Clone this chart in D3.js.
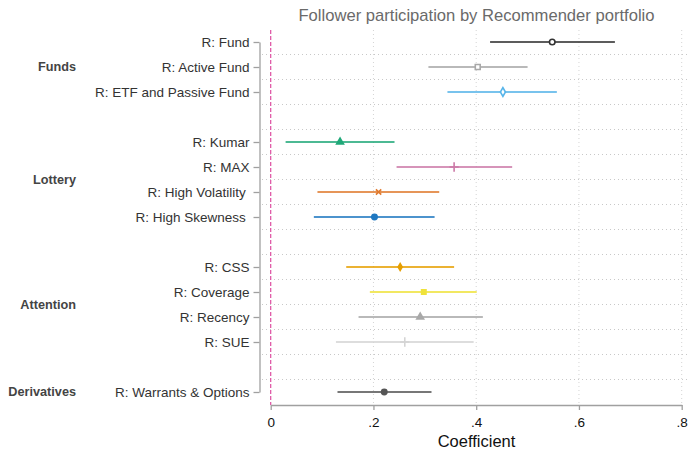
<!DOCTYPE html>
<html>
<head>
<meta charset="utf-8">
<script src="https://cdn.jsdelivr.net/npm/d3@7"></script>
<style>
  body { margin: 0; background: #fff; }
  text { font-family: "Liberation Sans", Arial, sans-serif; }
</style>
</head>
<body>
<svg id="chart"></svg>
<script>
// values
var rowLabels = ["R: Fund", "R: Active Fund", "R: ETF and Passive Fund",
  "R: Kumar", "R: MAX", "R: High Volatility\u00a0", "R: High Skewness\u00a0",
  "R: CSS", "R: Coverage", "R: Recency", "R: SUE", "R: Warrants & Options"];
var rowPos = [1, 2, 3, 5, 6, 7, 8, 10, 11, 12, 13, 15];
var groupNames = ["Funds", "Lottery", "Attention", "Derivatives"];
var groupPos = [2, 6.5, 11.5, 15];
var estimate = [0.548, 0.403, 0.452, 0.135, 0.357, 0.210, 0.202, 0.252, 0.298, 0.291, 0.261, 0.221];
var lower    = [0.427, 0.307, 0.344, 0.029, 0.245, 0.091, 0.084, 0.147, 0.193, 0.171, 0.127, 0.130];
var upper    = [0.670, 0.500, 0.557, 0.241, 0.470, 0.328, 0.319, 0.357, 0.401, 0.413, 0.395, 0.313];
var xTicks = [0, 0.2, 0.4, 0.6, 0.8];
var xTickLabels = ["0", ".2", ".4", ".6", ".8"];

var colors = ["#333333", "#a8a8a8", "#56b4e9", "#1fa878", "#cc79a7", "#e07a2e",
  "#1f78c1", "#e69f00", "#efe23a", "#a8a8a8", "#d4d4d4", "#555555"];
var markers = ["circleHollow", "squareHollow", "diamondHollow", "triangle", "plus", "times",
  "circle", "diamond", "square", "triangle", "plus", "circle"];

var width = 689, height = 450;
var svg = d3.select("#chart").attr("width", width).attr("height", height);

var x = d3.scaleLinear().domain([0, 0.8]).range([270.7, 681.7]);
var y = d3.scaleLinear().domain([1, 15]).range([42, 392]);
var plotTop = 30, plotBottom = 405, plotLeft = 262, plotRight = 689;

// title
svg.append("text")
  .attr("x", 476.5).attr("y", 21)
  .attr("text-anchor", "middle")
  .style("font-size", "16.6px")
  .style("fill", "#6a6a6a")
  .text("Follower participation by Recommender portfolio");

// horizontal dotted grid between rows
var hGrid = d3.range(1.5, 15, 1);
svg.append("g").selectAll("line").data(hGrid).enter().append("line")
  .attr("x1", plotLeft).attr("x2", plotRight)
  .attr("y1", function (d) { return y(d); })
  .attr("y2", function (d) { return y(d); })
  .style("stroke", "#c8c8c8").style("stroke-width", 1)
  .style("stroke-dasharray", "1,3");

// vertical dotted grid
svg.append("g").selectAll("line").data(xTicks.slice(1)).enter().append("line")
  .attr("x1", function (d) { return x(d); })
  .attr("x2", function (d) { return x(d); })
  .attr("y1", plotTop).attr("y2", plotBottom - 2)
  .style("stroke", "#d4d4d4").style("stroke-width", 1)
  .style("stroke-dasharray", "1,3");

// zero reference line
svg.append("line")
  .attr("x1", x(0)).attr("x2", x(0))
  .attr("y1", plotTop).attr("y2", plotBottom)
  .style("stroke", "#dd4fa0").style("stroke-width", 1.2)
  .style("stroke-dasharray", "4,2");

// x axis
var xAxis = d3.axisBottom(x)
  .tickValues(xTicks)
  .tickFormat(function (d, i) { return xTickLabels[i]; })
  .tickSizeInner(5).tickSizeOuter(0).tickPadding(7);
var gx = svg.append("g").attr("transform", "translate(0," + plotBottom + ")").call(xAxis);
gx.select(".domain").style("stroke", "#a0a0a0").style("stroke-width", 1.3);
gx.selectAll(".tick line").style("stroke", "#a0a0a0").style("stroke-width", 1.3);
gx.selectAll(".tick text").style("font-size", "13.5px").style("fill", "#111")
  .style("font-family", "'Liberation Sans', Arial, sans-serif");

svg.append("text")
  .attr("x", 476.5).attr("y", 447)
  .attr("text-anchor", "middle")
  .style("font-size", "16.5px")
  .style("fill", "#111")
  .text("Coefficient");

// y axis
var yAxis = d3.axisLeft(y)
  .tickValues(rowPos)
  .tickFormat(function (d, i) { return rowLabels[i]; })
  .tickSizeInner(6).tickSizeOuter(0).tickPadding(4);
var gy = svg.append("g").attr("transform", "translate(259.5,0)").call(yAxis);
gy.select(".domain").style("stroke", "#a0a0a0").style("stroke-width", 1.3);
gy.selectAll(".tick line").style("stroke", "#a0a0a0").style("stroke-width", 1.3);
gy.selectAll(".tick text").style("font-size", "13.5px").style("fill", "#333")
  .style("font-family", "'Liberation Sans', Arial, sans-serif");

// group labels
svg.append("g").selectAll("text").data(groupNames).enter().append("text")
  .attr("x", 76)
  .attr("y", function (d, i) { return y(groupPos[i]); })
  .attr("dy", "0.35em")
  .attr("text-anchor", "end")
  .style("font-size", "12.7px")
  .style("font-weight", "bold")
  .style("fill", "#444")
  .text(function (d) { return d; });

// confidence intervals
var rows = rowLabels.map(function (d, i) {
  return { label: d, pos: rowPos[i], est: estimate[i], lo: lower[i], hi: upper[i],
           color: colors[i], marker: markers[i] };
});

var ci = svg.append("g");
ci.selectAll("line").data(rows).enter().append("line")
  .attr("x1", function (d) { return x(d.lo); })
  .attr("x2", function (d) { return x(d.hi); })
  .attr("y1", function (d) { return y(d.pos); })
  .attr("y2", function (d) { return y(d.pos); })
  .style("stroke", function (d) { return d.color; })
  .style("stroke-opacity", 0.8)
  .style("stroke-width", 2.2);

// point estimates
var symbolFor = {
  circle: d3.symbolCircle, circleHollow: d3.symbolCircle,
  square: d3.symbolSquare, squareHollow: d3.symbolSquare,
  diamond: d3.symbolDiamond, diamondHollow: d3.symbolDiamond,
  triangle: d3.symbolTriangle, plus: d3.symbolPlus, times: d3.symbolTimes
};
var sizeFor = {
  circle: 38, circleHollow: 24, square: 36, squareHollow: 24,
  diamond: 30, diamondHollow: 22, triangle: 40, plus: 30, times: 20
};

svg.append("g").selectAll("path").data(rows).enter().append("path")
  .attr("transform", function (d) { return "translate(" + x(d.est) + "," + y(d.pos) + ")"; })
  .attr("d", function (d) { return d3.symbol().type(symbolFor[d.marker]).size(sizeFor[d.marker])(); })
  .style("fill", function (d) {
    if (d.marker.indexOf("Hollow") > 0) return "#fff";
    if (d.marker === "plus" || d.marker === "times") return "none";
    return d.color;
  })
  .style("stroke", function (d) { return d.color; })
  .style("stroke-width", function (d) {
    if (d.marker.indexOf("Hollow") > 0) return 1.6;
    if (d.marker === "plus" || d.marker === "times") return 1.6;
    return 0;
  });
</script>
</body>
</html>
